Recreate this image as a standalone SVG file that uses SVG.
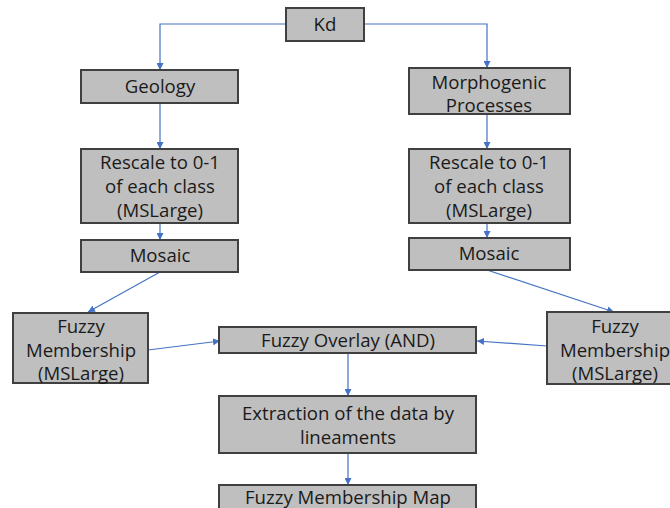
<svg xmlns="http://www.w3.org/2000/svg" width="670" height="508" viewBox="0 0 670 508">
<defs>
<marker id="ah" viewBox="0 0 10 10" refX="10" refY="5" markerWidth="7" markerHeight="7" orient="auto" markerUnits="userSpaceOnUse">
<path d="M0,0 L10,5 L0,10 z" fill="#4472c4"/>
</marker>
<style>
.box{fill:#bfbfbf;stroke:#404040;stroke-width:2}
.t{font-family:"Open Sans","Liberation Sans",sans-serif;font-size:18.6px;fill:#1a1a1a;text-anchor:middle}
.c{fill:none;stroke:#4472c4;stroke-width:1.2;marker-end:url(#ah)}
</style>
</defs>
<rect width="670" height="508" fill="#ffffff"/>
<g id="connectors">
<path class="c" d="M286,24 H160 V70"/>
<path class="c" d="M364,24 H487 V68"/>
<path class="c" d="M160,103 V149"/>
<path class="c" d="M487,114 V149"/>
<path class="c" d="M160,223 V240"/>
<path class="c" d="M487,223 V238"/>
<path class="c" d="M160,272 L88,312"/>
<path class="c" d="M487,270 L614,312"/>
<path class="c" d="M148,350 L220,341"/>
<path class="c" d="M547,346 L477,341"/>
<path class="c" d="M348,353 V396"/>
<path class="c" d="M348,453 V485"/>
</g>
<g id="kd"><rect class="box" x="286" y="8" width="78" height="33"/><text class="t" x="325" y="31">Kd</text></g>
<g id="geology"><rect class="box" x="81" y="70" width="157" height="33"/><text class="t" x="160" y="93">Geology</text></g>
<g id="morpho"><rect class="box" x="409" y="68" width="161" height="46"/><text class="t" x="489" y="89">Morphogenic</text><text class="t" x="489" y="112">Processes</text></g>
<g id="rescale-left"><rect class="box" x="81" y="149" width="157" height="74"/><text class="t" x="160" y="169">Rescale to 0-1</text><text class="t" x="160" y="193">of each class</text><text class="t" x="160" y="217">(MSLarge)</text></g>
<g id="rescale-right"><rect class="box" x="409" y="149" width="161" height="74"/><text class="t" x="489" y="169">Rescale to 0-1</text><text class="t" x="489" y="193">of each class</text><text class="t" x="489" y="217">(MSLarge)</text></g>
<g id="mosaic-left"><rect class="box" x="81" y="240" width="157" height="32"/><text class="t" x="160" y="262">Mosaic</text></g>
<g id="mosaic-right"><rect class="box" x="409" y="238" width="161" height="32"/><text class="t" x="489" y="260">Mosaic</text></g>
<g id="fm-left"><rect class="box" x="13" y="313" width="135" height="70"/><text class="t" x="81" y="333">Fuzzy</text><text class="t" x="81" y="357">Membership</text><text class="t" x="81" y="380">(MSLarge)</text></g>
<g id="fm-right"><rect class="box" x="547" y="312" width="130" height="72"/><text class="t" x="615" y="333">Fuzzy</text><text class="t" x="615" y="357">Membership</text><text class="t" x="615" y="380">(MSLarge)</text></g>
<g id="overlay"><rect class="box" x="219" y="327" width="257" height="26"/><text class="t" x="348" y="347">Fuzzy Overlay (AND)</text></g>
<g id="extraction"><rect class="box" x="219" y="396" width="257" height="57"/><text class="t" x="348" y="420">Extraction of the data by</text><text class="t" x="348" y="444">lineaments</text></g>
<g id="fmmap"><rect class="box" x="219" y="485" width="257" height="30"/><text class="t" x="348" y="504">Fuzzy Membership Map</text></g>
</svg>
